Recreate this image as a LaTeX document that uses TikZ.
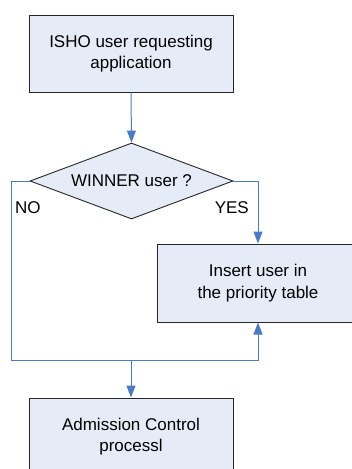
\documentclass[tikz,border=0pt]{standalone}
\usepackage{fontspec}
\setmainfont{Liberation Sans}
\usetikzlibrary{shapes.geometric,arrows.meta}

\definecolor{boxfill}{HTML}{E6ECF7}
\definecolor{boxline}{HTML}{262626}
\definecolor{flowblue}{HTML}{4A7BC8}

\tikzset{
  stepbox/.style={draw=boxline, fill=boxfill, line width=1pt,
    rectangle, inner sep=0pt, align=center,
    font=\fontsize{17}{21.5}\selectfont},
  decision/.style={draw=boxline, fill=boxfill, line width=0.9pt,
    diamond, aspect=2.67, inner sep=0pt,
    minimum width=203pt, minimum height=76pt,
    font=\fontsize{17}{21.5}\selectfont},
  flow/.style={draw=flowblue, line width=1pt},
  flowarrow/.style={flow, -{Triangle[length=12pt,width=9pt]}},
  branch/.style={inner sep=0pt, font=\fontsize{17}{20}\selectfont},
}

\begin{document}
\begin{tikzpicture}[x=1pt, y=-1pt]
  \useasboundingbox (0,0) rectangle (352,469);
  \clip (0,0) rectangle (352,469);

  % process boxes and the decision
  \node[stepbox, minimum width=204pt, minimum height=77pt] (req) at (131,53.5)
    {ISHO user requesting\\application};
  \node[decision] (dec) at (131.5,181) {WINNER user  ?};
  \node[stepbox, minimum width=202pt, minimum height=78pt] (ins) at (258,283)
    {Insert user in\\the priority table};
  \node[stepbox, minimum width=204pt, minimum height=77pt] (adm) at (131,436.5)
    {Admission Control\\processl};

  % branch labels
  \node[branch, anchor=west] (nolab) at (15,207.5) {NO};
  \node[branch, anchor=east] (yeslab) at (249,207.5) {YES};

  % turning points of the connectors
  \coordinate (noturn) at (11,181);
  \coordinate (loopend) at (258,360);
  \coordinate (merge) at (131,360);

  % connectors
  \draw[flowarrow] (req.south) -- (dec.north);
  \draw[flowarrow] (dec.east) -| (ins.north);
  \draw[flowarrow] (dec.west) -- (noturn) |- (loopend) -- (ins.south);
  \draw[flowarrow] (merge) -- (adm.north);
\end{tikzpicture}
\end{document}
